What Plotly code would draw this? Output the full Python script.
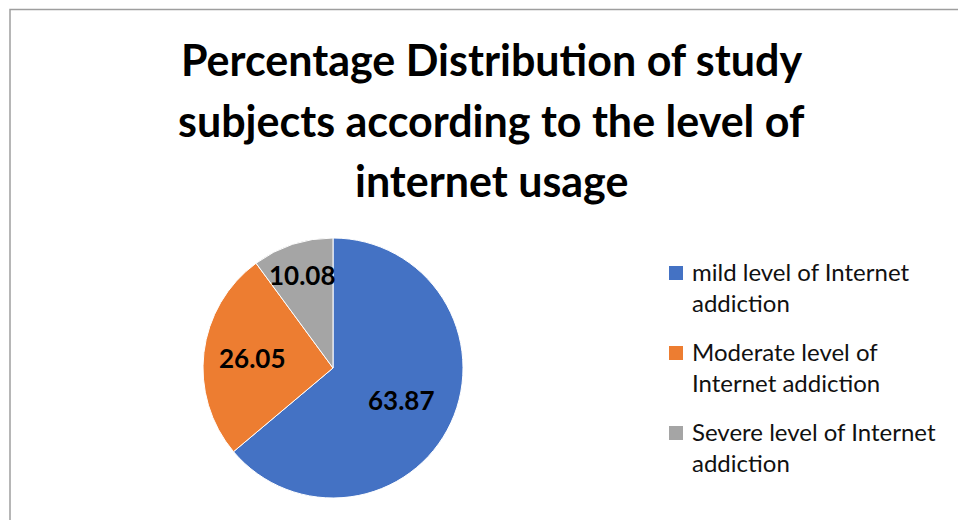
import math
import plotly.graph_objects as go

# Share of study subjects by level of internet addiction (%)
categories = [
    "mild level of Internet addiction",
    "Moderate level of Internet addiction",
    "Severe level of Internet addiction",
]
legend_lines = [
    ["mild level of Internet", "addiction"],
    ["Moderate level of", "Internet addiction"],
    ["Severe level of Internet", "addiction"],
]
values = [63.87, 26.05, 10.08]
colors = ["#4472C4", "#ED7D31", "#A5A5A5"]
title_lines = [
    "Percentage Distribution of study",
    "subjects according to the level of",
    "internet usage",
]

W, H = 958, 520
# pie placement in pixels
cx_px, cy_px, r_px = 333, 368, 130
# radial position of each value label (fraction of radius)
label_radius = [0.58, 0.62, 0.75]

fig = go.Figure(
    go.Pie(
        labels=categories,
        values=values,
        sort=False,
        direction="clockwise",
        rotation=0,
        marker=dict(colors=colors, line=dict(color="white", width=1)),
        textinfo="none",
        hoverinfo="label+value",
        showlegend=False,
        domain=dict(
            x=[(cx_px - r_px) / W, (cx_px + r_px) / W],
            y=[1 - (cy_px + r_px) / H, 1 - (cy_px - r_px) / H],
        ),
    )
)

annotations = []

# value labels placed at the middle angle of each slice
total = sum(values)
cum = 0.0
for v, frac in zip(values, label_radius):
    theta = math.radians(360 * (cum + v / 2) / total)
    cum += v
    px = cx_px + frac * r_px * math.sin(theta)
    py = cy_px - frac * r_px * math.cos(theta)
    annotations.append(dict(
        x=px / W, y=1 - py / H, xref="paper", yref="paper",
        text=f"<b>{v:.2f}</b>", showarrow=False,
        font=dict(family="Lato", size=26, color="black"),
        xanchor="center", yanchor="middle",
    ))

# title, one line at a time for even spacing
title_mid = [59, 120, 180]
for ln, ym in zip(title_lines, title_mid):
    annotations.append(dict(
        x=491 / W, y=1 - ym / H, xref="paper", yref="paper",
        text=f"<b>{ln}</b>", showarrow=False,
        font=dict(family="Lato", size=43, color="black"),
        xanchor="center", yanchor="middle",
    ))

# caption fragment above the chart frame
annotations.append(dict(
    x=18 / W, y=1 + 1 / H, xref="paper", yref="paper",
    text="Figure", showarrow=False,
    font=dict(family="Liberation Serif", size=20, color="black"),
    xanchor="left", yanchor="bottom",
))

shapes = [
    # chart frame (top and left edges visible)
    dict(type="rect", xref="paper", yref="paper",
         x0=10 / W, x1=1.05, y0=-0.05, y1=1 - 9.5 / H,
         line=dict(color="#9E9E9E", width=1.5), fillcolor="rgba(0,0,0,0)"),
]

# legend: colour swatch plus wrapped label
legend_top = [271, 351, 431]
line_gap = 31
for lines, col, y0 in zip(legend_lines, colors, legend_top):
    shapes.append(dict(type="rect", xref="paper", yref="paper",
                       x0=669 / W, x1=683 / W,
                       y0=1 - (y0 + 9) / H, y1=1 - (y0 - 5) / H,
                       line=dict(width=0), fillcolor=col))
    for i, ln in enumerate(lines):
        annotations.append(dict(
            x=690 / W, y=1 - (y0 + i * line_gap) / H, xref="paper", yref="paper",
            text=ln, showarrow=False,
            font=dict(family="Lato", size=24, color="#111111"),
            xanchor="left", yanchor="middle",
        ))

fig.update_layout(
    width=W, height=H,
    margin=dict(l=0, r=0, t=0, b=0),
    paper_bgcolor="white", plot_bgcolor="white",
    annotations=annotations, shapes=shapes,
    showlegend=False,
)

fig.write_html("out.html")
